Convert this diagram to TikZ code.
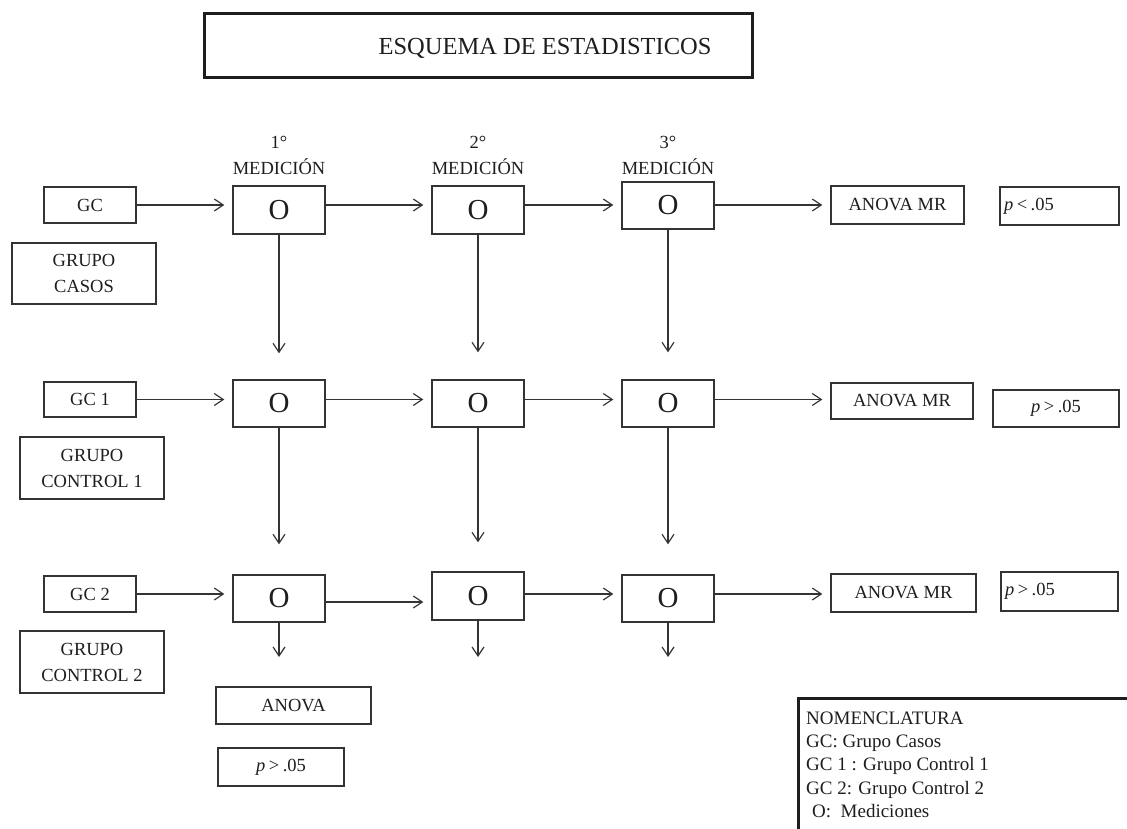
\documentclass[tikz,border=0pt]{standalone}
\usepackage{fontspec}
\setmainfont{Liberation Serif}
\usetikzlibrary{arrows.meta,calc}
\definecolor{ink}{HTML}{1E1E1E}
\definecolor{rule}{HTML}{333333}
\newcommand{\pval}[2]{\textit{p}\hspace{3.5pt}#1\hspace{3.5pt}#2}

\begin{document}
\begin{tikzpicture}[x=1pt,y=-1pt,
  txt/.style={font=\fontsize{18.5}{26}\selectfont, text=ink},
  box/.style={draw=rule, line width=1.3pt, inner sep=0pt, txt, align=center},
  obox/.style={box, minimum width=92pt, minimum height=47pt, font=\fontsize{29}{32}\selectfont},
  gbox/.style={box, minimum width=92pt, minimum height=36pt},
  lbox/.style={box, minimum width=144pt, minimum height=62pt},
  hdr/.style={txt, align=center, inner sep=0pt},
  frame/.style={draw=ink, line width=3pt},
  arr/.style={draw=rule, line width=1.2pt, -{Straight Barb[length=9pt,width=12pt]}, shorten >=8pt},
]
\useasboundingbox (0,0) rectangle (1127,829);

% title
\node[frame, minimum width=548pt, minimum height=64pt, inner sep=0pt] (title) at (478,46) {};
\node[inner sep=0pt, anchor=base, text=ink, font=\fontsize{24.5}{28}\selectfont] (titletext) at (545,55) {ESQUEMA DE ESTADISTICOS};

% column headings
\node[hdr] (h1) at (279,155) {1°\\MEDICIÓN};
\node[hdr] (h2) at (478,155) {2°\\MEDICIÓN};
\node[hdr] (h3) at (668,155) {3°\\MEDICIÓN};

% group labels
\node[gbox] (gc1) at (90,205) {GC};
\node[lbox, minimum width=144pt, minimum height=61pt] (gcasos) at (84,273.5) {GRUPO\\CASOS};
\node[gbox, minimum height=35pt] (gc2) at (90,399.5) {GC 1};
\node[lbox] (gctrl1) at (92,468) {GRUPO\\CONTROL 1};
\node[gbox] (gc3) at (90,594) {GC 2};
\node[lbox] (gctrl2) at (92,662) {GRUPO\\CONTROL 2};

% measurement boxes
\node[obox, minimum height=48pt] (o11) at (279,210) {O};
\node[obox, minimum height=48pt] (o12) at (478,210) {O};
\node[obox] (o13) at (668,205.5) {O};
\node[obox] (o21) at (279,403.5) {O};
\node[obox] (o22) at (478,403.5) {O};
\node[obox] (o23) at (668,403.5) {O};
\node[obox] (o31) at (279,598.5) {O};
\node[obox, minimum height=48pt] (o32) at (478,596) {O};
\node[obox] (o33) at (668,598.5) {O};

% repeated-measures ANOVA results
\node[box, minimum width=133pt, minimum height=38pt] (am1) at (897.5,205) {ANOVA MR};
\node[box, minimum width=142pt, minimum height=36pt] (am2) at (902,401) {ANOVA MR};
\node[box, minimum width=145pt, minimum height=38pt] (am3) at (903.5,593) {ANOVA MR};
\node[box, text width=111pt, inner xsep=4pt, align=left, minimum height=38pt] (p1) at (1059.5,206) {\pval{<}{.05}};
\node[box, minimum width=126pt, minimum height=37pt] (p2) at (1056,408.5) {\pval{>}{.05}};
\node[box, text width=109pt, inner xsep=4pt, align=left, minimum height=39pt] (p3) at (1059.5,591.5) {\pval{>}{.05}};

% between-groups ANOVA
\node[box, minimum width=155pt, minimum height=37pt] (anova) at (293.5,705.5) {ANOVA};
\node[box, minimum width=126pt, minimum height=38pt] (p4) at (281,767) {\pval{>}{.05}};

% nomenclature
\node[frame, anchor=north west, minimum width=345pt, minimum height=145pt, inner sep=0pt] (nom) at (797,697) {};
\node[anchor=north west, inner sep=0pt, align=left, text=ink, font=\fontsize{19}{23.3}\selectfont] (nomtext) at (806,711.5)
  {NOMENCLATURA\\GC: Grupo Casos\\GC 1 : Grupo Control 1\\GC 2: Grupo Control 2\\\hspace*{6pt}O:\ \ Mediciones};

% horizontal flow, row 1
\draw[arr] (gc1.east) -- (gc1.east -| o11.west);
\draw[arr] (o11.east |- gc1) -- (o12.west |- gc1);
\draw[arr] (o12.east |- gc1) -- (o13.west |- gc1);
\draw[arr] (o13.east |- gc1) -- (am1.west |- gc1);
% row 2
\draw[arr] (gc2.east) -- (gc2.east -| o21.west);
\draw[arr] (o21.east |- gc2) -- (o22.west |- gc2);
\draw[arr] (o22.east |- gc2) -- (o23.west |- gc2);
\draw[arr] (o23.east |- gc2) -- (am2.west |- gc2);
% row 3
\draw[arr] (gc3.east) -- (gc3.east -| o31.west);
\draw[arr] ([yshift=-3.5pt]o31.east) -- ([yshift=-3.5pt]o31.east -| o32.west);
\draw[arr] (o32.east |- gc3) -- (o33.west |- gc3);
\draw[arr] (o33.east |- gc3) -- (am3.west |- gc3);

% vertical flow between rows
\draw[arr, shorten >=26pt] (o11.south) -- (o21.north);
\draw[arr, shorten >=27pt] (o12.south) -- (o22.north);
\draw[arr, shorten >=27pt] (o13.south) -- (o23.north);
\draw[arr, shorten >=30pt] (o21.south) -- (o31.north);
\draw[arr, shorten >=29pt] (o22.south) -- (o32.north);
\draw[arr, shorten >=30pt] (o23.south) -- (o33.north);

% short drops under the last row
\coordinate (d1) at (279,657);
\draw[arr, shorten >=0pt] (o31.south) -- (d1);
\draw[arr, shorten >=0pt] (o32.south) -- (o32.south |- d1);
\draw[arr, shorten >=0pt] (o33.south) -- (o33.south |- d1);
\end{tikzpicture}
\end{document}
